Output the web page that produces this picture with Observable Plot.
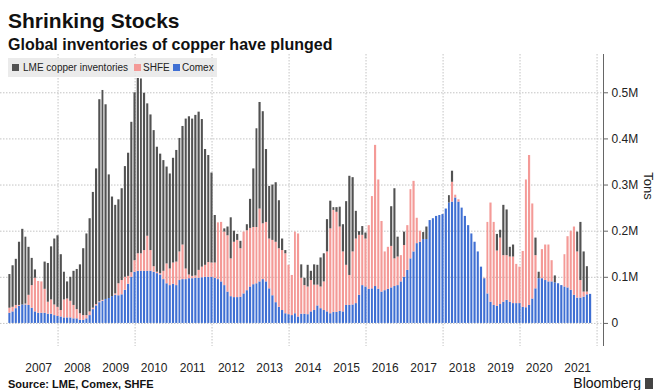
<!DOCTYPE html>
<html><head><meta charset="utf-8">
<script src="https://cdn.jsdelivr.net/npm/d3@7"></script>
<script src="https://cdn.jsdelivr.net/npm/@observablehq/plot@0.6"></script>
<style>
body{margin:0;background:#fff;font-family:"Liberation Sans",Arial,sans-serif;color:#111;}
#wrap{position:relative;width:655px;height:390px;overflow:hidden;background:#fff;}
#title{position:absolute;left:8px;top:10px;font-size:21px;line-height:21px;font-weight:bold;white-space:nowrap;}
#subtitle{position:absolute;left:8px;top:37px;font-size:16px;line-height:16px;font-weight:bold;white-space:nowrap;}
#chart{position:absolute;left:0;top:52px;}
#legend{position:absolute;left:8px;top:58px;width:209px;height:19px;background:rgba(232,232,232,0.85);}
#legend .sw{position:absolute;top:6px;width:7px;height:7px;}
#legend .tx{position:absolute;top:4px;font-size:10px;line-height:11px;color:#222;white-space:nowrap;}
#ylab{position:absolute;left:633px;top:178px;width:30px;height:16px;font-size:13px;line-height:16px;text-align:center;transform:rotate(90deg);color:#222;}
#source{position:absolute;left:8px;top:378px;font-size:11px;line-height:12px;font-weight:bold;white-space:nowrap;}
#brand{position:absolute;right:14px;top:376px;font-size:14px;line-height:15px;white-space:nowrap;color:#111;}
#logo{position:absolute;left:645px;top:378px;width:8px;height:11px;background:#444;}
</style></head><body>
<div id="wrap">
  <div id="title">Shrinking Stocks</div>
  <div id="subtitle">Global inventories of copper have plunged</div>
  <div id="chart"></div>
  <div id="legend"></div>
  <div id="ylab">Tons</div>
  <div id="source">Source: LME, Comex, SHFE</div>
  <div id="brand">Bloomberg</div>
  <div id="logo"></div>
</div>
<script>
// Monthly inventories, thousand tonnes, Sep 2006 .. Oct 2021 (visible segment heights, stacked)
const firstMonth = [2006, 8];   // Sep 2006 (UTC month index 8)
const lastMonthExclusive = [2021, 10]; // Nov 2021
const comex = [
  22,25,32,37,40,40,39,33,25,22,22,22,20,20,17,15,14,12,12,12,10,10,7,7,10,17,
  30,38,45,48,52,54,58,61,60,62,72,85,100,111,113,113,113,113,113,111,108,105,95,86,82,85,
  82,93,95,95,97,97,98,98,99,100,100,100,98,95,90,82,68,58,56,56,57,64,71,79,84,86,
  90,95,90,75,60,45,35,28,21,19,17,21,14,20,20,19,25,28,38,32,28,25,21,24,24,26,
  25,39,39,40,43,61,82,79,74,75,80,74,68,71,74,77,80,82,90,100,115,140,155,173,176,182,
  182,223,227,232,234,236,248,261,263,272,263,250,232,212,194,176,155,122,97,64,46,39,37,41,46,50,
  46,43,43,43,35,34,39,53,75,97,97,93,90,90,88,86,82,79,77,72,61,55,55,57,62,63
];
const shfe = [
  11,10,7,2,0,2,22,49,73,69,68,52,26,31,23,20,14,39,41,36,29,20,14,10,7,8,
  3,3,2,2,0,0,0,3,26,31,28,17,10,25,38,38,45,76,45,12,3,3,18,43,36,46,
  51,62,75,23,8,5,5,17,23,26,32,31,33,123,129,116,122,82,120,124,105,134,130,127,124,122,
  158,121,129,108,120,131,127,130,130,107,87,177,180,78,62,60,68,55,45,47,62,130,184,221,217,183,
  130,87,65,115,140,130,109,104,138,200,306,237,153,84,91,90,60,62,57,69,97,150,153,55,24,0,
  0,0,0,0,0,0,0,0,43,6,5,0,0,0,0,0,0,0,1,155,215,180,120,144,101,97,
  98,101,85,79,121,277,325,206,72,0,63,77,80,46,0,0,0,70,111,128,148,100,38,11,6,0
];
const lme = [
  73,90,100,137,164,145,104,59,18,0,0,59,84,115,143,155,121,60,37,52,74,87,106,145,177,202,
  251,294,438,455,422,268,216,192,182,199,240,267,326,364,380,379,341,287,294,295,271,259,240,210,206,227,
  242,246,257,325,343,341,348,343,320,251,232,195,103,0,0,7,19,89,24,13,16,0,13,63,127,214,
  231,243,158,114,120,129,104,25,7,0,0,0,0,29,16,47,20,44,43,63,61,70,60,6,10,43,
  59,138,215,161,60,8,19,13,0,0,0,0,0,0,0,86,152,43,0,29,0,0,0,0,0,15,
  27,0,0,0,0,0,0,16,24,0,0,0,0,0,0,0,0,0,0,0,0,0,36,17,109,99,
  21,26,0,0,0,0,0,0,38,14,0,0,0,0,15,0,0,0,0,0,0,43,126,87,55,0
];
const seriesNames = ["LME copper inventories", "SHFE", "Comex"];
const seriesColors = ["#525252", "#f49a97", "#3f6fd3"];
const yTicks = [0, 100000, 200000, 300000, 400000, 500000];
const yTickLabels = ["0", "0.1M", "0.2M", "0.3M", "0.4M", "0.5M"];
const yearLabels = [2007,2008,2009,2010,2011,2012,2013,2014,2015,2016,2017,2018,2019,2020,2021];
const gridYears = [2008,2010,2012,2014,2016,2018,2020,2022];

const months = d3.utcMonth.range(new Date(Date.UTC(...firstMonth, 1)), new Date(Date.UTC(...lastMonthExclusive, 1)));
const rows = [];
months.forEach((m, i) => {
  const x1 = d3.utcDay.offset(m, 15);
  const x2 = d3.utcDay.offset(d3.utcMonth.offset(m, 1), 15);
  rows.push({x1, x2, series: "Comex", value: comex[i] * 1000});
  rows.push({x1, x2, series: "SHFE", value: shfe[i] * 1000});
  rows.push({x1, x2, series: "LME copper inventories", value: lme[i] * 1000});
});

const xDomain = [new Date(Date.UTC(2006, 6, 4)), new Date(Date.UTC(2022, 2, 3))];
const yearMid = yearLabels.map(y => new Date(Date.UTC(y, 6, 1)));
const gridDates = gridYears.map(y => new Date(Date.UTC(y, 0, 1)));

const chart = Plot.plot({
  width: 655, height: 328,
  marginLeft: 0, marginRight: 52, marginTop: 2, marginBottom: 34,
  style: {fontFamily: "'Liberation Sans', Arial, sans-serif", fontSize: "12px", color: "#222", background: "transparent"},
  x: {type: "utc", domain: xDomain, label: null},
  y: {domain: [-50000, 583000], label: null},
  color: {domain: seriesNames, range: seriesColors},
  marks: [
    Plot.ruleY(yTicks, {stroke: "#c4c4c4", strokeDasharray: "1.5,1.5"}),
    Plot.ruleX(gridDates, {stroke: "#c4c4c4", strokeDasharray: "1.5,1.5"}),
    Plot.rectY(rows, Plot.stackY({x1: "x1", x2: "x2", y: "value", fill: "series", insetLeft: 0.55, insetRight: 0.55})),
    Plot.ruleX([xDomain[1]], {stroke: "#666", strokeWidth: 1}),
    Plot.axisX(yearMid, {tickSize: 0, tickPadding: 17, tickFormat: d => String(d.getUTCFullYear()), label: null, fontSize: 12}),
    Plot.axisY(yTicks, {anchor: "right", tickSize: 4, tickPadding: 4, tickFormat: (d, i) => yTickLabels[yTicks.indexOf(d)], label: null, fontSize: 12, stroke: "#666"})
  ]
});
document.getElementById("chart").appendChild(chart);

// legend
const legend = document.getElementById("legend");
const items = [
  {name: "LME copper inventories", color: seriesColors[0], sw: 4, tx: 15},
  {name: "SHFE", color: seriesColors[1], sw: 126, tx: 135},
  {name: "Comex", color: seriesColors[2], sw: 165, tx: 174}
];
items.forEach(it => {
  const s = document.createElement("div"); s.className = "sw"; s.style.left = it.sw + "px"; s.style.background = it.color; legend.appendChild(s);
  const t = document.createElement("div"); t.className = "tx"; t.style.left = it.tx + "px"; t.textContent = it.name; legend.appendChild(t);
});
</script>
</body></html>
